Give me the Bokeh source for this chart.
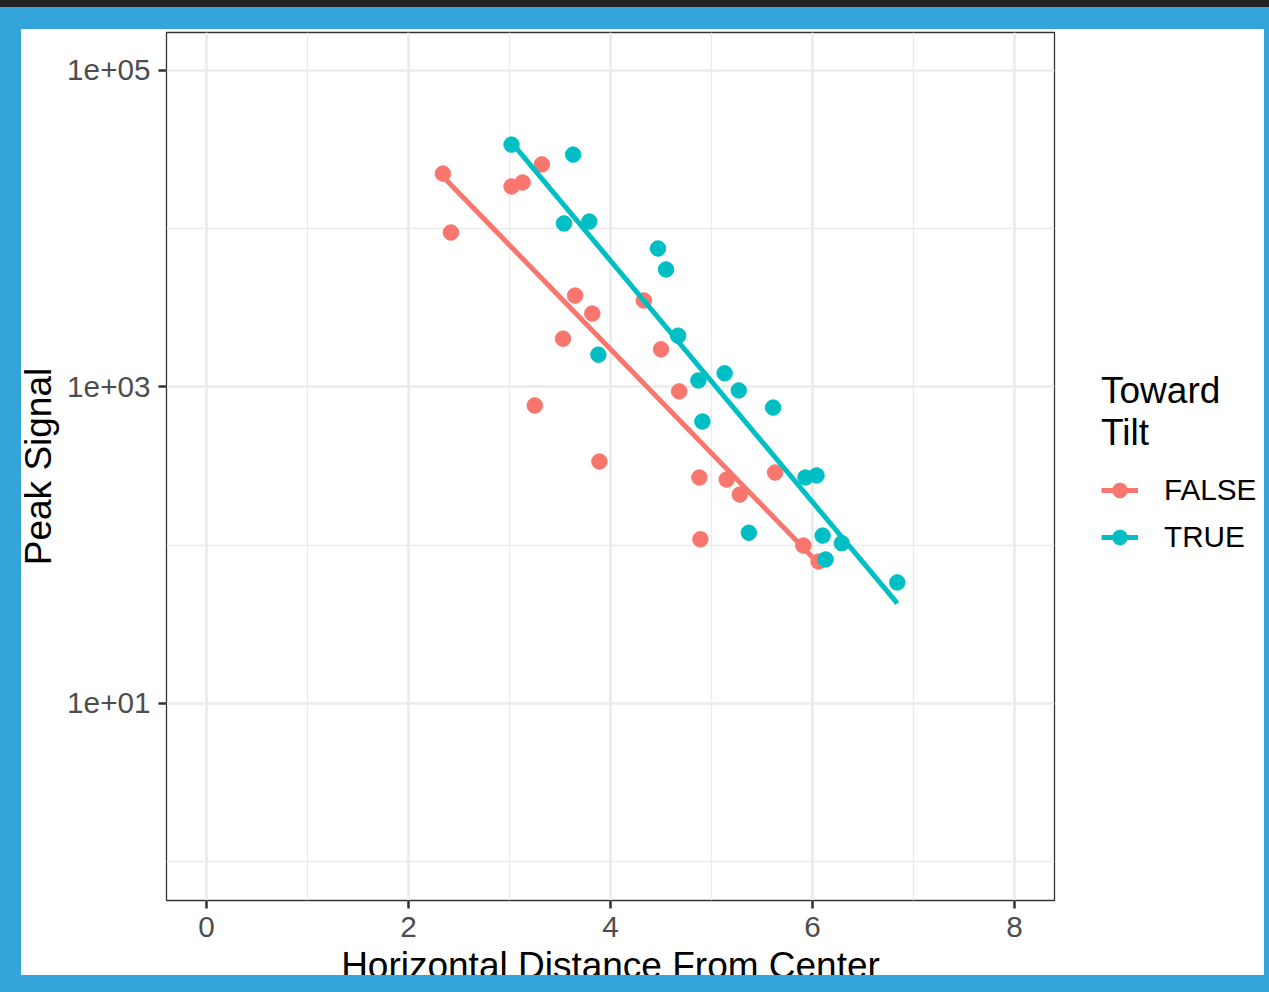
import numpy as np
from bokeh.plotting import figure
from bokeh.layouts import row
from bokeh.models import FixedTicker, Legend, LegendItem, InlineStyleSheet
from bokeh.embed import file_html
from bokeh.resources import INLINE

# Peak signal vs. horizontal distance, split by whether the sensor tilts toward the source
false_x = [2.34, 2.42, 3.02, 3.13, 3.32, 3.65, 3.82, 3.53, 3.25, 3.89,
           4.33, 4.50, 4.68, 4.88, 4.89, 5.15, 5.28, 5.63, 5.91, 6.06]
false_signal = [22300, 9460, 18500, 19600, 25500, 3780, 2910, 2020, 764, 338,
                3520, 1730, 938, 268, 109, 260, 209, 288, 99.5, 78.9]

true_x = [3.02, 3.63, 3.54, 3.79, 4.47, 4.55, 4.67, 3.88, 4.87, 5.13,
          5.27, 4.91, 5.61, 5.93, 6.04, 5.37, 6.10, 6.29, 6.13, 6.84]
true_signal = [34000, 29400, 10800, 11100, 7500, 5530, 2110, 1600, 1100, 1220,
               951, 605, 741, 268, 276, 120, 115, 103, 81.3, 58.2]

groups = ["FALSE", "TRUE"]
group_colors = ["#F8766D", "#00BFC4"]

x_ticks = [0, 2, 4, 6, 8]
x_minor_ticks = [1, 3, 5, 7]
y_ticks = [10, 1000, 100000]
y_tick_labels = ["1e+01", "1e+03", "1e+05"]
y_minor_ticks = [1, 100, 10000]

FONT = "Liberation Sans"
W, H = 1269, 992
MAIN_W = 1056
POINT_SIZE = 15.5
LINE_W = 5

# ---- main scatter panel ----
p = figure(width=MAIN_W, height=H, x_range=(-0.396, 8.396),
           y_range=(10 ** -0.245, 10 ** 5.24), y_axis_type="log",
           output_backend="svg", toolbar_location=None,
           min_border_left=166, min_border_right=2,
           min_border_top=32, min_border_bottom=92)
p.background_fill_color = "white"
p.border_fill_color = "white"
p.outline_line_color = "#333333"
p.outline_line_width = 1.3

p.xaxis.ticker = FixedTicker(ticks=x_ticks, minor_ticks=x_minor_ticks)
p.yaxis.ticker = FixedTicker(ticks=y_ticks, minor_ticks=y_minor_ticks)
p.yaxis.major_label_overrides = dict(zip(y_ticks, y_tick_labels))

for ax in (p.xaxis[0], p.yaxis[0]):
    ax.axis_line_color = None
    ax.major_tick_out = 8
    ax.major_tick_in = 0
    ax.minor_tick_out = 0
    ax.minor_tick_in = 0
    ax.minor_tick_line_color = None
    ax.major_tick_line_color = "#333333"
    ax.major_tick_line_width = 2.5
    ax.major_label_text_font = FONT
    ax.major_label_text_font_size = "29.7px"
    ax.major_label_text_color = "#4D4D4D"
    ax.axis_label_text_font = FONT
    ax.axis_label_text_font_size = "37px"
    ax.axis_label_text_font_style = "normal"
    ax.axis_label_text_color = "black"
p.yaxis.major_label_standoff = 8
p.xaxis.major_label_standoff = 8
p.xaxis.axis_label = "Horizontal Distance From Center"
p.yaxis.axis_label = "Peak Signal"
p.xaxis.axis_label_standoff = 5
p.yaxis.axis_label_standoff = 5

for g in (p.xgrid[0], p.ygrid[0]):
    g.grid_line_color = "#EBEBEB"
    g.grid_line_width = 2.7
    g.minor_grid_line_color = "#EBEBEB"
    g.minor_grid_line_width = 1.35

# ---- legend strip on the right ----
lg = figure(width=W - MAIN_W, height=H, x_range=(0, 1), y_range=(0, 1),
            x_axis_type=None, y_axis_type=None, output_backend="svg",
            toolbar_location=None, min_border=0)
lg.outline_line_color = None
lg.background_fill_color = "white"
lg.border_fill_color = "white"
lg.xgrid.visible = False
lg.ygrid.visible = False

# points, then a least-squares fit of log10(signal) on distance for each group;
# the legend strip gets matching renderers (its unit ranges keep them off-canvas)
# so that its keys pick up the same styling
items = []
for label, xs, ys, col in zip(groups, [false_x, true_x],
                              [false_signal, true_signal], group_colors):
    xa = np.array(xs)
    slope, icpt = np.polyfit(xa, np.log10(ys), 1)
    fx = np.array([xa.min(), xa.max()])
    fy = 10 ** (icpt + slope * fx)
    p.scatter(xs, ys, size=POINT_SIZE, fill_color=col, line_color=col)
    p.line(fx, fy, line_color=col, line_width=LINE_W)
    key_ln = lg.line(fx, fy, line_color=col, line_width=LINE_W)
    key_pt = lg.scatter(xs, ys, size=POINT_SIZE, fill_color=col, line_color=col)
    items.append(LegendItem(label=label, renderers=[key_ln, key_pt]))

legend = Legend(items=items, location=(45, 343), orientation="vertical",
                title="Toward\nTilt", title_text_font=FONT,
                title_text_font_size="37px", title_text_font_style="normal",
                title_text_color="black", title_standoff=16,
                glyph_width=37, glyph_height=40, label_height=40, spacing=7,
                padding=0, margin=0, label_standoff=26,
                border_line_color=None, background_fill_alpha=0,
                label_text_font=FONT, label_text_font_size="29.7px",
                label_text_color="black")
lg.add_layout(legend)

# blue frame drawn over the edges of the whole card, with a dark strip on top
frame_css = InlineStyleSheet(css="""
:host { position: relative; }
:host::after {
  content: ""; position: absolute; left: 0; top: 0;
  width: 1269px; height: 992px; box-sizing: border-box;
  border-style: solid; border-color: #35A4DA;
  border-width: 29px 5px 17px 21px;
  z-index: 100; pointer-events: none;
}
:host::before {
  content: ""; position: absolute; left: 0; top: 0;
  width: 1269px; height: 7px; background: #222222;
  z-index: 101; pointer-events: none;
}
""")

layout = row(p, lg, spacing=0, stylesheets=[frame_css])

open("out.html", "w").write(file_html(layout, INLINE))
